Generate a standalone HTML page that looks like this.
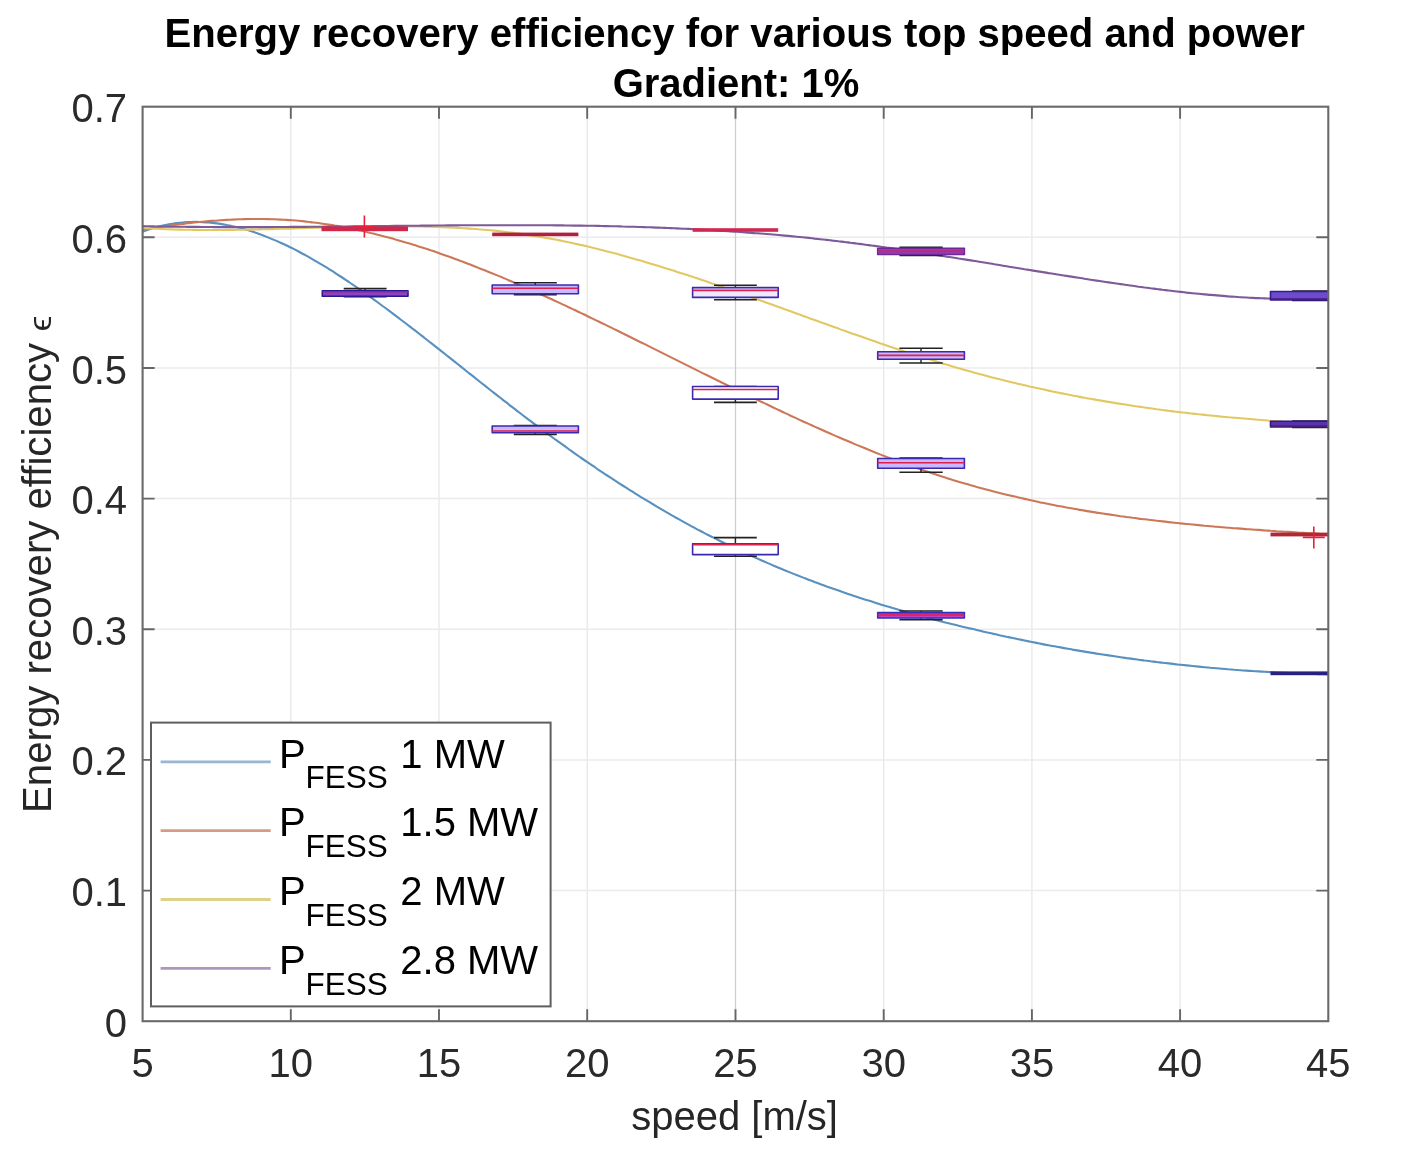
<!DOCTYPE html>
<html><head><meta charset="utf-8"><style>html,body{margin:0;padding:0;background:#fff;}svg{display:block;filter:blur(0.4px);}text{font-family:"Liberation Sans",sans-serif;}</style></head><body>
<svg width="1424" height="1161" viewBox="0 0 1424 1161">
<rect width="1424" height="1161" fill="#fff"/>
<path d="M290.8,106.7V1021.2M439.0,106.7V1021.2M587.2,106.7V1021.2M735.5,106.7V1021.2M883.7,106.7V1021.2M1031.9,106.7V1021.2M1180.1,106.7V1021.2M142.6,890.6H1328.3M142.6,759.9H1328.3M142.6,629.3H1328.3M142.6,498.6H1328.3M142.6,368.0H1328.3M142.6,237.3H1328.3" stroke="#ebebeb" stroke-width="1.5" fill="none"/>
<path d="M735.5,106.7V1021.2" stroke="#cdcdcd" stroke-width="1.1" fill="none"/>
<defs><clipPath id="ax"><rect x="142.6" y="106.7" width="1185.7" height="914.5"/></clipPath></defs>
<g clip-path="url(#ax)" fill="none" stroke-linejoin="round">
<path d="M142.6,231.7 C143.6,231.3 146.6,230.2 148.6,229.5 C150.6,228.8 152.6,228.2 154.6,227.7 C156.6,227.1 158.6,226.5 160.6,226.1 C162.6,225.6 164.6,225.1 166.6,224.7 C168.6,224.3 170.6,224.0 172.6,223.7 C174.6,223.4 176.6,223.1 178.6,222.9 C180.6,222.6 182.6,222.5 184.6,222.3 C186.6,222.2 188.6,222.1 190.6,222.0 C192.6,221.9 194.6,221.9 196.6,221.9 C198.6,222.0 200.6,222.0 202.6,222.1 C204.6,222.2 206.6,222.3 208.6,222.5 C210.6,222.7 212.6,222.9 214.6,223.1 C216.6,223.3 218.6,223.6 220.6,223.9 C222.6,224.2 224.6,224.6 226.6,225.0 C228.6,225.3 230.6,225.8 232.6,226.2 C234.6,226.6 236.6,227.1 238.6,227.6 C240.6,228.1 242.6,228.7 244.6,229.3 C246.6,229.8 248.6,230.4 250.6,231.1 C252.6,231.7 254.6,232.4 256.6,233.1 C258.6,233.8 260.6,234.5 262.6,235.2 C264.6,236.0 266.6,236.8 268.6,237.6 C270.6,238.4 272.6,239.2 274.6,240.1 C276.6,240.9 278.6,241.8 280.6,242.7 C282.6,243.6 284.6,244.5 286.6,245.5 C288.6,246.5 290.6,247.4 292.6,248.4 C294.6,249.5 296.6,250.5 298.6,251.5 C300.6,252.6 302.6,253.7 304.6,254.7 C306.6,255.8 308.6,257.0 310.6,258.1 C312.6,259.2 314.6,260.4 316.6,261.6 C318.6,262.7 320.6,263.9 322.6,265.1 C324.6,266.3 326.6,267.6 328.6,268.8 C330.6,270.1 332.6,271.3 334.6,272.6 C336.6,273.9 338.6,275.2 340.6,276.5 C342.6,277.8 344.6,279.1 346.6,280.5 C348.6,281.8 350.6,283.2 352.6,284.5 C354.6,285.9 356.6,287.3 358.6,288.7 C360.6,290.1 362.6,291.5 364.6,292.9 C366.6,294.3 368.6,295.8 370.6,297.2 C372.6,298.6 374.6,300.1 376.6,301.5 C378.6,303.0 380.6,304.5 382.6,306.0 C384.6,307.4 386.6,308.9 388.6,310.4 C390.6,311.9 392.6,313.4 394.6,314.9 C396.6,316.4 398.6,317.9 400.6,319.5 C402.6,321.0 404.6,322.5 406.6,324.0 C408.6,325.6 410.6,327.1 412.6,328.7 C414.6,330.2 416.6,331.7 418.6,333.3 C420.6,334.9 422.6,336.4 424.6,338.0 C426.6,339.5 428.6,341.1 430.6,342.7 C432.6,344.2 434.6,345.8 436.6,347.4 C438.6,349.0 440.6,350.6 442.6,352.1 C444.6,353.7 446.6,355.3 448.6,356.9 C450.6,358.5 452.6,360.1 454.6,361.6 C456.6,363.2 458.6,364.8 460.6,366.4 C462.6,368.0 464.6,369.6 466.6,371.2 C468.6,372.8 470.6,374.3 472.6,375.9 C474.6,377.5 476.6,379.1 478.6,380.7 C480.6,382.3 482.6,383.9 484.6,385.4 C486.6,387.0 488.6,388.6 490.6,390.2 C492.6,391.8 494.6,393.3 496.6,394.9 C498.6,396.5 500.6,398.0 502.6,399.6 C504.6,401.2 506.6,402.7 508.6,404.3 C510.6,405.8 512.6,407.4 514.6,408.9 C516.6,410.5 518.6,412.0 520.6,413.5 C522.6,415.1 524.6,416.6 526.6,418.1 C528.6,419.6 530.6,421.2 532.6,422.7 C534.6,424.2 536.6,425.7 538.6,427.2 C540.6,428.7 542.6,430.1 544.6,431.6 C546.6,433.1 548.6,434.6 550.6,436.0 C552.6,437.5 554.6,439.0 556.6,440.4 C558.6,441.9 560.6,443.3 562.6,444.7 C564.6,446.2 566.6,447.6 568.6,449.0 C570.6,450.4 572.6,451.9 574.6,453.3 C576.6,454.7 578.6,456.1 580.6,457.5 C582.6,458.8 584.6,460.2 586.6,461.6 C588.6,463.0 590.6,464.3 592.6,465.7 C594.6,467.1 596.6,468.4 598.6,469.8 C600.6,471.1 602.6,472.4 604.6,473.8 C606.6,475.1 608.6,476.4 610.6,477.7 C612.6,479.0 614.6,480.3 616.6,481.6 C618.6,482.9 620.6,484.2 622.6,485.5 C624.6,486.8 626.6,488.0 628.6,489.3 C630.6,490.6 632.6,491.8 634.6,493.1 C636.6,494.3 638.6,495.5 640.6,496.8 C642.6,498.0 644.6,499.2 646.6,500.4 C648.6,501.6 650.6,502.8 652.6,504.0 C654.6,505.2 656.6,506.4 658.6,507.6 C660.6,508.8 662.6,509.9 664.6,511.1 C666.6,512.3 668.6,513.4 670.6,514.6 C672.6,515.7 674.6,516.8 676.6,518.0 C678.6,519.1 680.6,520.2 682.6,521.3 C684.6,522.4 686.6,523.5 688.6,524.6 C690.6,525.7 692.6,526.8 694.6,527.8 C696.6,528.9 698.6,530.0 700.6,531.0 C702.6,532.1 704.6,533.1 706.6,534.2 C708.6,535.2 710.6,536.2 712.6,537.2 C714.6,538.3 716.6,539.3 718.6,540.3 C720.6,541.3 722.6,542.3 724.6,543.2 C726.6,544.2 728.6,545.2 730.6,546.2 C732.6,547.1 734.6,548.1 736.6,549.0 C738.6,550.0 740.6,550.9 742.6,551.8 C744.6,552.8 746.6,553.7 748.6,554.6 C750.6,555.5 752.6,556.4 754.6,557.3 C756.6,558.2 758.6,559.1 760.6,560.0 C762.6,560.9 764.6,561.8 766.6,562.6 C768.6,563.5 770.6,564.3 772.6,565.2 C774.6,566.0 776.6,566.9 778.6,567.7 C780.6,568.6 782.6,569.4 784.6,570.2 C786.6,571.0 788.6,571.8 790.6,572.6 C792.6,573.5 794.6,574.3 796.6,575.0 C798.6,575.8 800.6,576.6 802.6,577.4 C804.6,578.2 806.6,578.9 808.6,579.7 C810.6,580.5 812.6,581.2 814.6,582.0 C816.6,582.7 818.6,583.5 820.6,584.2 C822.6,584.9 824.6,585.7 826.6,586.4 C828.6,587.1 830.6,587.8 832.6,588.5 C834.6,589.2 836.6,589.9 838.6,590.6 C840.6,591.3 842.6,592.0 844.6,592.7 C846.6,593.4 848.6,594.1 850.6,594.7 C852.6,595.4 854.6,596.1 856.6,596.7 C858.6,597.4 860.6,598.1 862.6,598.7 C864.6,599.3 866.6,600.0 868.6,600.6 C870.6,601.3 872.6,601.9 874.6,602.5 C876.6,603.1 878.6,603.8 880.6,604.4 C882.6,605.0 884.6,605.6 886.6,606.2 C888.6,606.8 890.6,607.4 892.6,608.0 C894.6,608.6 896.6,609.2 898.6,609.7 C900.6,610.3 902.6,610.9 904.6,611.5 C906.6,612.0 908.6,612.6 910.6,613.2 C912.6,613.7 914.6,614.3 916.6,614.8 C918.6,615.4 920.6,615.9 922.6,616.5 C924.6,617.0 926.6,617.6 928.6,618.1 C930.6,618.6 932.6,619.1 934.6,619.7 C936.6,620.2 938.6,620.7 940.6,621.2 C942.6,621.7 944.6,622.2 946.6,622.8 C948.6,623.3 950.6,623.8 952.6,624.3 C954.6,624.8 956.6,625.3 958.6,625.7 C960.6,626.2 962.6,626.7 964.6,627.2 C966.6,627.7 968.6,628.2 970.6,628.6 C972.6,629.1 974.6,629.6 976.6,630.0 C978.6,630.5 980.6,631.0 982.6,631.4 C984.6,631.9 986.6,632.4 988.6,632.8 C990.6,633.3 992.6,633.7 994.6,634.1 C996.6,634.6 998.6,635.0 1000.6,635.5 C1002.6,635.9 1004.6,636.3 1006.6,636.8 C1008.6,637.2 1010.6,637.6 1012.6,638.0 C1014.6,638.5 1016.6,638.9 1018.6,639.3 C1020.6,639.7 1022.6,640.1 1024.6,640.5 C1026.6,640.9 1028.6,641.3 1030.6,641.7 C1032.6,642.1 1034.6,642.5 1036.6,642.9 C1038.6,643.3 1040.6,643.7 1042.6,644.1 C1044.6,644.5 1046.6,644.9 1048.6,645.2 C1050.6,645.6 1052.6,646.0 1054.6,646.3 C1056.6,646.7 1058.6,647.1 1060.6,647.4 C1062.6,647.8 1064.6,648.2 1066.6,648.5 C1068.6,648.9 1070.6,649.2 1072.6,649.6 C1074.6,649.9 1076.6,650.3 1078.6,650.6 C1080.6,650.9 1082.6,651.3 1084.6,651.6 C1086.6,651.9 1088.6,652.3 1090.6,652.6 C1092.6,652.9 1094.6,653.2 1096.6,653.6 C1098.6,653.9 1100.6,654.2 1102.6,654.5 C1104.6,654.8 1106.6,655.1 1108.6,655.4 C1110.6,655.7 1112.6,656.0 1114.6,656.3 C1116.6,656.6 1118.6,656.9 1120.6,657.2 C1122.6,657.5 1124.6,657.8 1126.6,658.1 C1128.6,658.3 1130.6,658.6 1132.6,658.9 C1134.6,659.2 1136.6,659.4 1138.6,659.7 C1140.6,660.0 1142.6,660.2 1144.6,660.5 C1146.6,660.7 1148.6,661.0 1150.6,661.3 C1152.6,661.5 1154.6,661.8 1156.6,662.0 C1158.6,662.2 1160.6,662.5 1162.6,662.7 C1164.6,663.0 1166.6,663.2 1168.6,663.4 C1170.6,663.7 1172.6,663.9 1174.6,664.1 C1176.6,664.3 1178.6,664.6 1180.6,664.8 C1182.6,665.0 1184.6,665.2 1186.6,665.4 C1188.6,665.6 1190.6,665.8 1192.6,666.0 C1194.6,666.2 1196.6,666.4 1198.6,666.6 C1200.6,666.8 1202.6,667.0 1204.6,667.2 C1206.6,667.4 1208.6,667.6 1210.6,667.8 C1212.6,667.9 1214.6,668.1 1216.6,668.3 C1218.6,668.5 1220.6,668.6 1222.6,668.8 C1224.6,669.0 1226.6,669.1 1228.6,669.3 C1230.6,669.4 1232.6,669.6 1234.6,669.8 C1236.6,669.9 1238.6,670.1 1240.6,670.2 C1242.6,670.4 1244.6,670.5 1246.6,670.6 C1248.6,670.8 1250.6,670.9 1252.6,671.0 C1254.6,671.2 1256.6,671.3 1258.6,671.4 C1260.6,671.5 1262.6,671.7 1264.6,671.8 C1266.6,671.9 1268.6,672.0 1270.6,672.1 C1272.6,672.2 1274.6,672.4 1276.6,672.5 C1278.6,672.6 1280.6,672.7 1282.6,672.8 C1284.6,672.9 1286.6,672.9 1288.6,673.0 C1290.6,673.1 1292.6,673.2 1294.6,673.3 C1296.6,673.4 1298.6,673.5 1300.6,673.5 C1302.6,673.6 1304.6,673.7 1306.6,673.8 C1308.6,673.8 1310.6,673.9 1312.6,674.0 C1314.6,674.0 1316.6,674.1 1318.6,674.1 C1320.6,674.2 1323.0,674.3 1324.6,674.3 C1326.2,674.3 1327.7,674.4 1328.3,674.4" stroke="#5890c0" stroke-width="2.1"/>
<path d="M142.6,229.8 C143.6,229.6 146.6,229.1 148.6,228.8 C150.6,228.4 152.6,228.1 154.6,227.8 C156.6,227.5 158.6,227.2 160.6,226.9 C162.6,226.6 164.6,226.3 166.6,226.0 C168.6,225.7 170.6,225.4 172.6,225.2 C174.6,224.9 176.6,224.6 178.6,224.4 C180.6,224.1 182.6,223.9 184.6,223.6 C186.6,223.4 188.6,223.1 190.6,222.9 C192.6,222.7 194.6,222.5 196.6,222.3 C198.6,222.1 200.6,221.9 202.6,221.7 C204.6,221.5 206.6,221.3 208.6,221.1 C210.6,221.0 212.6,220.8 214.6,220.7 C216.6,220.5 218.6,220.4 220.6,220.2 C222.6,220.1 224.6,220.0 226.6,219.9 C228.6,219.8 230.6,219.7 232.6,219.6 C234.6,219.5 236.6,219.4 238.6,219.3 C240.6,219.3 242.6,219.2 244.6,219.1 C246.6,219.1 248.6,219.1 250.6,219.0 C252.6,219.0 254.6,219.0 256.6,219.0 C258.6,219.0 260.6,219.0 262.6,219.0 C264.6,219.1 266.6,219.1 268.6,219.1 C270.6,219.2 272.6,219.3 274.6,219.3 C276.6,219.4 278.6,219.5 280.6,219.6 C282.6,219.7 284.6,219.8 286.6,219.9 C288.6,220.1 290.6,220.2 292.6,220.3 C294.6,220.5 296.6,220.7 298.6,220.8 C300.6,221.0 302.6,221.2 304.6,221.4 C306.6,221.6 308.6,221.9 310.6,222.1 C312.6,222.3 314.6,222.6 316.6,222.8 C318.6,223.1 320.6,223.4 322.6,223.7 C324.6,224.0 326.6,224.3 328.6,224.6 C330.6,224.9 332.6,225.2 334.6,225.6 C336.6,225.9 338.6,226.2 340.6,226.6 C342.6,227.0 344.6,227.4 346.6,227.7 C348.6,228.1 350.6,228.5 352.6,228.9 C354.6,229.4 356.6,229.8 358.6,230.2 C360.6,230.6 362.6,231.1 364.6,231.5 C366.6,232.0 368.6,232.5 370.6,233.0 C372.6,233.4 374.6,233.9 376.6,234.4 C378.6,234.9 380.6,235.4 382.6,235.9 C384.6,236.5 386.6,237.0 388.6,237.5 C390.6,238.1 392.6,238.6 394.6,239.2 C396.6,239.7 398.6,240.3 400.6,240.9 C402.6,241.5 404.6,242.1 406.6,242.7 C408.6,243.3 410.6,243.9 412.6,244.5 C414.6,245.1 416.6,245.7 418.6,246.4 C420.6,247.0 422.6,247.6 424.6,248.3 C426.6,248.9 428.6,249.6 430.6,250.3 C432.6,250.9 434.6,251.6 436.6,252.3 C438.6,253.0 440.6,253.7 442.6,254.4 C444.6,255.1 446.6,255.8 448.6,256.5 C450.6,257.2 452.6,258.0 454.6,258.7 C456.6,259.4 458.6,260.2 460.6,260.9 C462.6,261.7 464.6,262.4 466.6,263.2 C468.6,264.0 470.6,264.7 472.6,265.5 C474.6,266.3 476.6,267.1 478.6,267.9 C480.6,268.6 482.6,269.4 484.6,270.2 C486.6,271.0 488.6,271.9 490.6,272.7 C492.6,273.5 494.6,274.3 496.6,275.1 C498.6,276.0 500.6,276.8 502.6,277.6 C504.6,278.5 506.6,279.3 508.6,280.2 C510.6,281.0 512.6,281.9 514.6,282.8 C516.6,283.6 518.6,284.5 520.6,285.4 C522.6,286.2 524.6,287.1 526.6,288.0 C528.6,288.9 530.6,289.8 532.6,290.7 C534.6,291.6 536.6,292.5 538.6,293.4 C540.6,294.3 542.6,295.2 544.6,296.1 C546.6,297.0 548.6,297.9 550.6,298.8 C552.6,299.7 554.6,300.7 556.6,301.6 C558.6,302.5 560.6,303.4 562.6,304.4 C564.6,305.3 566.6,306.2 568.6,307.2 C570.6,308.1 572.6,309.1 574.6,310.0 C576.6,311.0 578.6,311.9 580.6,312.9 C582.6,313.8 584.6,314.8 586.6,315.7 C588.6,316.7 590.6,317.7 592.6,318.6 C594.6,319.6 596.6,320.6 598.6,321.5 C600.6,322.5 602.6,323.5 604.6,324.4 C606.6,325.4 608.6,326.4 610.6,327.4 C612.6,328.4 614.6,329.3 616.6,330.3 C618.6,331.3 620.6,332.3 622.6,333.3 C624.6,334.2 626.6,335.2 628.6,336.2 C630.6,337.2 632.6,338.2 634.6,339.2 C636.6,340.2 638.6,341.2 640.6,342.2 C642.6,343.2 644.6,344.1 646.6,345.1 C648.6,346.1 650.6,347.1 652.6,348.1 C654.6,349.1 656.6,350.1 658.6,351.1 C660.6,352.1 662.6,353.1 664.6,354.1 C666.6,355.1 668.6,356.1 670.6,357.1 C672.6,358.1 674.6,359.1 676.6,360.1 C678.6,361.1 680.6,362.1 682.6,363.1 C684.6,364.1 686.6,365.1 688.6,366.1 C690.6,367.1 692.6,368.1 694.6,369.1 C696.6,370.1 698.6,371.1 700.6,372.1 C702.6,373.0 704.6,374.0 706.6,375.0 C708.6,376.0 710.6,377.0 712.6,378.0 C714.6,379.0 716.6,380.0 718.6,381.0 C720.6,382.0 722.6,382.9 724.6,383.9 C726.6,384.9 728.6,385.9 730.6,386.9 C732.6,387.9 734.6,388.8 736.6,389.8 C738.6,390.8 740.6,391.8 742.6,392.8 C744.6,393.7 746.6,394.7 748.6,395.7 C750.6,396.6 752.6,397.6 754.6,398.6 C756.6,399.5 758.6,400.5 760.6,401.5 C762.6,402.4 764.6,403.4 766.6,404.3 C768.6,405.3 770.6,406.2 772.6,407.2 C774.6,408.1 776.6,409.1 778.6,410.0 C780.6,411.0 782.6,411.9 784.6,412.9 C786.6,413.8 788.6,414.7 790.6,415.7 C792.6,416.6 794.6,417.5 796.6,418.4 C798.6,419.4 800.6,420.3 802.6,421.2 C804.6,422.1 806.6,423.0 808.6,423.9 C810.6,424.8 812.6,425.7 814.6,426.6 C816.6,427.5 818.6,428.4 820.6,429.3 C822.6,430.2 824.6,431.1 826.6,432.0 C828.6,432.9 830.6,433.7 832.6,434.6 C834.6,435.5 836.6,436.4 838.6,437.2 C840.6,438.1 842.6,438.9 844.6,439.8 C846.6,440.7 848.6,441.5 850.6,442.3 C852.6,443.2 854.6,444.0 856.6,444.9 C858.6,445.7 860.6,446.5 862.6,447.3 C864.6,448.2 866.6,449.0 868.6,449.8 C870.6,450.6 872.6,451.4 874.6,452.2 C876.6,453.0 878.6,453.8 880.6,454.6 C882.6,455.4 884.6,456.1 886.6,456.9 C888.6,457.7 890.6,458.4 892.6,459.2 C894.6,460.0 896.6,460.7 898.6,461.5 C900.6,462.2 902.6,463.0 904.6,463.7 C906.6,464.4 908.6,465.1 910.6,465.9 C912.6,466.6 914.6,467.3 916.6,468.0 C918.6,468.7 920.6,469.4 922.6,470.1 C924.6,470.8 926.6,471.5 928.6,472.1 C930.6,472.8 932.6,473.5 934.6,474.1 C936.6,474.8 938.6,475.5 940.6,476.1 C942.6,476.7 944.6,477.4 946.6,478.0 C948.6,478.6 950.6,479.3 952.6,479.9 C954.6,480.5 956.6,481.1 958.6,481.7 C960.6,482.3 962.6,482.9 964.6,483.5 C966.6,484.1 968.6,484.6 970.6,485.2 C972.6,485.8 974.6,486.3 976.6,486.9 C978.6,487.4 980.6,488.0 982.6,488.5 C984.6,489.1 986.6,489.6 988.6,490.1 C990.6,490.7 992.6,491.2 994.6,491.7 C996.6,492.2 998.6,492.7 1000.6,493.2 C1002.6,493.7 1004.6,494.2 1006.6,494.7 C1008.6,495.2 1010.6,495.7 1012.6,496.1 C1014.6,496.6 1016.6,497.1 1018.6,497.5 C1020.6,498.0 1022.6,498.5 1024.6,498.9 C1026.6,499.3 1028.6,499.8 1030.6,500.2 C1032.6,500.7 1034.6,501.1 1036.6,501.5 C1038.6,501.9 1040.6,502.4 1042.6,502.8 C1044.6,503.2 1046.6,503.6 1048.6,504.0 C1050.6,504.4 1052.6,504.8 1054.6,505.2 C1056.6,505.6 1058.6,506.0 1060.6,506.3 C1062.6,506.7 1064.6,507.1 1066.6,507.5 C1068.6,507.8 1070.6,508.2 1072.6,508.5 C1074.6,508.9 1076.6,509.2 1078.6,509.6 C1080.6,509.9 1082.6,510.3 1084.6,510.6 C1086.6,511.0 1088.6,511.3 1090.6,511.6 C1092.6,511.9 1094.6,512.3 1096.6,512.6 C1098.6,512.9 1100.6,513.2 1102.6,513.5 C1104.6,513.8 1106.6,514.1 1108.6,514.4 C1110.6,514.7 1112.6,515.0 1114.6,515.3 C1116.6,515.6 1118.6,515.9 1120.6,516.2 C1122.6,516.4 1124.6,516.7 1126.6,517.0 C1128.6,517.2 1130.6,517.5 1132.6,517.8 C1134.6,518.0 1136.6,518.3 1138.6,518.6 C1140.6,518.8 1142.6,519.1 1144.6,519.3 C1146.6,519.6 1148.6,519.8 1150.6,520.0 C1152.6,520.3 1154.6,520.5 1156.6,520.7 C1158.6,521.0 1160.6,521.2 1162.6,521.4 C1164.6,521.7 1166.6,521.9 1168.6,522.1 C1170.6,522.3 1172.6,522.5 1174.6,522.7 C1176.6,522.9 1178.6,523.2 1180.6,523.4 C1182.6,523.6 1184.6,523.8 1186.6,524.0 C1188.6,524.2 1190.6,524.4 1192.6,524.5 C1194.6,524.7 1196.6,524.9 1198.6,525.1 C1200.6,525.3 1202.6,525.5 1204.6,525.7 C1206.6,525.8 1208.6,526.0 1210.6,526.2 C1212.6,526.4 1214.6,526.5 1216.6,526.7 C1218.6,526.9 1220.6,527.0 1222.6,527.2 C1224.6,527.4 1226.6,527.5 1228.6,527.7 C1230.6,527.9 1232.6,528.0 1234.6,528.2 C1236.6,528.3 1238.6,528.5 1240.6,528.6 C1242.6,528.8 1244.6,528.9 1246.6,529.1 C1248.6,529.2 1250.6,529.4 1252.6,529.5 C1254.6,529.7 1256.6,529.8 1258.6,529.9 C1260.6,530.1 1262.6,530.2 1264.6,530.4 C1266.6,530.5 1268.6,530.6 1270.6,530.8 C1272.6,530.9 1274.6,531.0 1276.6,531.2 C1278.6,531.3 1280.6,531.4 1282.6,531.6 C1284.6,531.7 1286.6,531.8 1288.6,531.9 C1290.6,532.1 1292.6,532.2 1294.6,532.3 C1296.6,532.4 1298.6,532.6 1300.6,532.7 C1302.6,532.8 1304.6,532.9 1306.6,533.0 C1308.6,533.2 1310.6,533.3 1312.6,533.4 C1314.6,533.5 1316.6,533.6 1318.6,533.7 C1320.6,533.9 1323.0,534.0 1324.6,534.1 C1326.2,534.2 1327.7,534.3 1328.3,534.3" stroke="#cc7858" stroke-width="2.1"/>
<path d="M142.6,228.0 C143.6,228.0 146.6,228.2 148.6,228.3 C150.6,228.4 152.6,228.5 154.6,228.6 C156.6,228.7 158.6,228.8 160.6,228.9 C162.6,229.0 164.6,229.1 166.6,229.2 C168.6,229.2 170.6,229.3 172.6,229.4 C174.6,229.4 176.6,229.5 178.6,229.6 C180.6,229.6 182.6,229.7 184.6,229.7 C186.6,229.7 188.6,229.8 190.6,229.8 C192.6,229.8 194.6,229.9 196.6,229.9 C198.6,229.9 200.6,229.9 202.6,230.0 C204.6,230.0 206.6,230.0 208.6,230.0 C210.6,230.0 212.6,230.0 214.6,230.0 C216.6,230.0 218.6,230.0 220.6,230.0 C222.6,230.0 224.6,229.9 226.6,229.9 C228.6,229.9 230.6,229.9 232.6,229.9 C234.6,229.8 236.6,229.8 238.6,229.8 C240.6,229.8 242.6,229.7 244.6,229.7 C246.6,229.7 248.6,229.6 250.6,229.6 C252.6,229.5 254.6,229.5 256.6,229.5 C258.6,229.4 260.6,229.4 262.6,229.3 C264.6,229.3 266.6,229.2 268.6,229.2 C270.6,229.1 272.6,229.1 274.6,229.0 C276.6,229.0 278.6,228.9 280.6,228.8 C282.6,228.8 284.6,228.7 286.6,228.7 C288.6,228.6 290.6,228.6 292.6,228.5 C294.6,228.4 296.6,228.4 298.6,228.3 C300.6,228.3 302.6,228.2 304.6,228.1 C306.6,228.1 308.6,228.0 310.6,228.0 C312.6,227.9 314.6,227.8 316.6,227.8 C318.6,227.7 320.6,227.7 322.6,227.6 C324.6,227.5 326.6,227.5 328.6,227.4 C330.6,227.4 332.6,227.3 334.6,227.3 C336.6,227.2 338.6,227.2 340.6,227.1 C342.6,227.1 344.6,227.0 346.6,227.0 C348.6,226.9 350.6,226.9 352.6,226.8 C354.6,226.8 356.6,226.7 358.6,226.7 C360.6,226.7 362.6,226.6 364.6,226.6 C366.6,226.6 368.6,226.5 370.6,226.5 C372.6,226.5 374.6,226.4 376.6,226.4 C378.6,226.4 380.6,226.4 382.6,226.4 C384.6,226.4 386.6,226.3 388.6,226.3 C390.6,226.3 392.6,226.3 394.6,226.3 C396.6,226.3 398.6,226.3 400.6,226.3 C402.6,226.3 404.6,226.3 406.6,226.4 C408.6,226.4 410.6,226.4 412.6,226.4 C414.6,226.4 416.6,226.5 418.6,226.5 C420.6,226.5 422.6,226.6 424.6,226.6 C426.6,226.7 428.6,226.7 430.6,226.8 C432.6,226.8 434.6,226.9 436.6,227.0 C438.6,227.0 440.6,227.1 442.6,227.2 C444.6,227.2 446.6,227.3 448.6,227.4 C450.6,227.5 452.6,227.6 454.6,227.7 C456.6,227.8 458.6,227.9 460.6,228.0 C462.6,228.2 464.6,228.3 466.6,228.4 C468.6,228.5 470.6,228.7 472.6,228.8 C474.6,229.0 476.6,229.1 478.6,229.3 C480.6,229.4 482.6,229.6 484.6,229.8 C486.6,229.9 488.6,230.1 490.6,230.3 C492.6,230.5 494.6,230.7 496.6,230.9 C498.6,231.1 500.6,231.3 502.6,231.6 C504.6,231.8 506.6,232.0 508.6,232.3 C510.6,232.5 512.6,232.8 514.6,233.0 C516.6,233.3 518.6,233.5 520.6,233.8 C522.6,234.1 524.6,234.4 526.6,234.7 C528.6,235.0 530.6,235.3 532.6,235.6 C534.6,235.9 536.6,236.2 538.6,236.6 C540.6,236.9 542.6,237.2 544.6,237.6 C546.6,238.0 548.6,238.3 550.6,238.7 C552.6,239.1 554.6,239.4 556.6,239.8 C558.6,240.2 560.6,240.6 562.6,241.0 C564.6,241.4 566.6,241.8 568.6,242.3 C570.6,242.7 572.6,243.1 574.6,243.6 C576.6,244.0 578.6,244.4 580.6,244.9 C582.6,245.3 584.6,245.8 586.6,246.3 C588.6,246.7 590.6,247.2 592.6,247.7 C594.6,248.2 596.6,248.7 598.6,249.2 C600.6,249.7 602.6,250.2 604.6,250.7 C606.6,251.2 608.6,251.7 610.6,252.3 C612.6,252.8 614.6,253.3 616.6,253.8 C618.6,254.4 620.6,254.9 622.6,255.5 C624.6,256.0 626.6,256.6 628.6,257.2 C630.6,257.7 632.6,258.3 634.6,258.9 C636.6,259.4 638.6,260.0 640.6,260.6 C642.6,261.2 644.6,261.8 646.6,262.4 C648.6,263.0 650.6,263.6 652.6,264.2 C654.6,264.8 656.6,265.4 658.6,266.0 C660.6,266.6 662.6,267.3 664.6,267.9 C666.6,268.5 668.6,269.1 670.6,269.8 C672.6,270.4 674.6,271.0 676.6,271.7 C678.6,272.3 680.6,273.0 682.6,273.6 C684.6,274.3 686.6,274.9 688.6,275.6 C690.6,276.3 692.6,276.9 694.6,277.6 C696.6,278.2 698.6,278.9 700.6,279.6 C702.6,280.3 704.6,280.9 706.6,281.6 C708.6,282.3 710.6,283.0 712.6,283.7 C714.6,284.3 716.6,285.0 718.6,285.7 C720.6,286.4 722.6,287.1 724.6,287.8 C726.6,288.5 728.6,289.2 730.6,289.9 C732.6,290.6 734.6,291.3 736.6,292.0 C738.6,292.7 740.6,293.4 742.6,294.1 C744.6,294.8 746.6,295.5 748.6,296.2 C750.6,297.0 752.6,297.7 754.6,298.4 C756.6,299.1 758.6,299.8 760.6,300.5 C762.6,301.2 764.6,302.0 766.6,302.7 C768.6,303.4 770.6,304.1 772.6,304.8 C774.6,305.6 776.6,306.3 778.6,307.0 C780.6,307.7 782.6,308.4 784.6,309.2 C786.6,309.9 788.6,310.6 790.6,311.3 C792.6,312.1 794.6,312.8 796.6,313.5 C798.6,314.2 800.6,315.0 802.6,315.7 C804.6,316.4 806.6,317.1 808.6,317.9 C810.6,318.6 812.6,319.3 814.6,320.0 C816.6,320.7 818.6,321.5 820.6,322.2 C822.6,322.9 824.6,323.6 826.6,324.3 C828.6,325.1 830.6,325.8 832.6,326.5 C834.6,327.2 836.6,327.9 838.6,328.6 C840.6,329.4 842.6,330.1 844.6,330.8 C846.6,331.5 848.6,332.2 850.6,332.9 C852.6,333.6 854.6,334.3 856.6,335.0 C858.6,335.7 860.6,336.4 862.6,337.1 C864.6,337.8 866.6,338.5 868.6,339.2 C870.6,339.9 872.6,340.6 874.6,341.3 C876.6,342.0 878.6,342.7 880.6,343.4 C882.6,344.0 884.6,344.7 886.6,345.4 C888.6,346.1 890.6,346.8 892.6,347.4 C894.6,348.1 896.6,348.8 898.6,349.4 C900.6,350.1 902.6,350.8 904.6,351.4 C906.6,352.1 908.6,352.7 910.6,353.4 C912.6,354.0 914.6,354.7 916.6,355.3 C918.6,356.0 920.6,356.6 922.6,357.2 C924.6,357.9 926.6,358.5 928.6,359.1 C930.6,359.8 932.6,360.4 934.6,361.0 C936.6,361.6 938.6,362.2 940.6,362.8 C942.6,363.4 944.6,364.1 946.6,364.6 C948.6,365.2 950.6,365.8 952.6,366.4 C954.6,367.0 956.6,367.6 958.6,368.2 C960.6,368.8 962.6,369.3 964.6,369.9 C966.6,370.5 968.6,371.0 970.6,371.6 C972.6,372.1 974.6,372.7 976.6,373.2 C978.6,373.8 980.6,374.3 982.6,374.8 C984.6,375.4 986.6,375.9 988.6,376.4 C990.6,377.0 992.6,377.5 994.6,378.0 C996.6,378.5 998.6,379.0 1000.6,379.5 C1002.6,380.0 1004.6,380.5 1006.6,381.0 C1008.6,381.5 1010.6,382.0 1012.6,382.5 C1014.6,382.9 1016.6,383.4 1018.6,383.9 C1020.6,384.4 1022.6,384.8 1024.6,385.3 C1026.6,385.8 1028.6,386.2 1030.6,386.7 C1032.6,387.1 1034.6,387.6 1036.6,388.0 C1038.6,388.5 1040.6,388.9 1042.6,389.3 C1044.6,389.8 1046.6,390.2 1048.6,390.6 C1050.6,391.0 1052.6,391.5 1054.6,391.9 C1056.6,392.3 1058.6,392.7 1060.6,393.1 C1062.6,393.5 1064.6,393.9 1066.6,394.3 C1068.6,394.7 1070.6,395.1 1072.6,395.5 C1074.6,395.9 1076.6,396.2 1078.6,396.6 C1080.6,397.0 1082.6,397.4 1084.6,397.7 C1086.6,398.1 1088.6,398.5 1090.6,398.8 C1092.6,399.2 1094.6,399.5 1096.6,399.9 C1098.6,400.2 1100.6,400.6 1102.6,400.9 C1104.6,401.3 1106.6,401.6 1108.6,401.9 C1110.6,402.3 1112.6,402.6 1114.6,402.9 C1116.6,403.3 1118.6,403.6 1120.6,403.9 C1122.6,404.2 1124.6,404.5 1126.6,404.8 C1128.6,405.1 1130.6,405.5 1132.6,405.8 C1134.6,406.1 1136.6,406.3 1138.6,406.6 C1140.6,406.9 1142.6,407.2 1144.6,407.5 C1146.6,407.8 1148.6,408.1 1150.6,408.3 C1152.6,408.6 1154.6,408.9 1156.6,409.2 C1158.6,409.4 1160.6,409.7 1162.6,410.0 C1164.6,410.2 1166.6,410.5 1168.6,410.7 C1170.6,411.0 1172.6,411.2 1174.6,411.5 C1176.6,411.7 1178.6,412.0 1180.6,412.2 C1182.6,412.4 1184.6,412.7 1186.6,412.9 C1188.6,413.1 1190.6,413.4 1192.6,413.6 C1194.6,413.8 1196.6,414.0 1198.6,414.3 C1200.6,414.5 1202.6,414.7 1204.6,414.9 C1206.6,415.1 1208.6,415.3 1210.6,415.5 C1212.6,415.7 1214.6,415.9 1216.6,416.1 C1218.6,416.3 1220.6,416.5 1222.6,416.7 C1224.6,416.9 1226.6,417.1 1228.6,417.3 C1230.6,417.4 1232.6,417.6 1234.6,417.8 C1236.6,418.0 1238.6,418.2 1240.6,418.3 C1242.6,418.5 1244.6,418.7 1246.6,418.8 C1248.6,419.0 1250.6,419.2 1252.6,419.3 C1254.6,419.5 1256.6,419.6 1258.6,419.8 C1260.6,419.9 1262.6,420.1 1264.6,420.2 C1266.6,420.4 1268.6,420.5 1270.6,420.7 C1272.6,420.8 1274.6,420.9 1276.6,421.1 C1278.6,421.2 1280.6,421.3 1282.6,421.5 C1284.6,421.6 1286.6,421.7 1288.6,421.8 C1290.6,422.0 1292.6,422.1 1294.6,422.2 C1296.6,422.3 1298.6,422.4 1300.6,422.5 C1302.6,422.7 1304.6,422.8 1306.6,422.9 C1308.6,423.0 1310.6,423.1 1312.6,423.2 C1314.6,423.3 1316.6,423.4 1318.6,423.5 C1320.6,423.6 1323.0,423.7 1324.6,423.8 C1326.2,423.8 1327.7,423.9 1328.3,423.9" stroke="#e2c862" stroke-width="2.1"/>
<path d="M142.6,226.1 C143.6,226.2 146.6,226.2 148.6,226.3 C150.6,226.3 152.6,226.3 154.6,226.4 C156.6,226.4 158.6,226.5 160.6,226.5 C162.6,226.5 164.6,226.6 166.6,226.6 C168.6,226.6 170.6,226.6 172.6,226.7 C174.6,226.7 176.6,226.7 178.6,226.8 C180.6,226.8 182.6,226.8 184.6,226.8 C186.6,226.8 188.6,226.9 190.6,226.9 C192.6,226.9 194.6,226.9 196.6,226.9 C198.6,227.0 200.6,227.0 202.6,227.0 C204.6,227.0 206.6,227.0 208.6,227.0 C210.6,227.0 212.6,227.1 214.6,227.1 C216.6,227.1 218.6,227.1 220.6,227.1 C222.6,227.1 224.6,227.1 226.6,227.1 C228.6,227.1 230.6,227.1 232.6,227.1 C234.6,227.1 236.6,227.1 238.6,227.1 C240.6,227.1 242.6,227.1 244.6,227.1 C246.6,227.1 248.6,227.1 250.6,227.1 C252.6,227.1 254.6,227.1 256.6,227.1 C258.6,227.1 260.6,227.1 262.6,227.1 C264.6,227.1 266.6,227.1 268.6,227.1 C270.6,227.1 272.6,227.1 274.6,227.0 C276.6,227.0 278.6,227.0 280.6,227.0 C282.6,227.0 284.6,227.0 286.6,227.0 C288.6,227.0 290.6,227.0 292.6,226.9 C294.6,226.9 296.6,226.9 298.6,226.9 C300.6,226.9 302.6,226.9 304.6,226.9 C306.6,226.8 308.6,226.8 310.6,226.8 C312.6,226.8 314.6,226.8 316.6,226.8 C318.6,226.7 320.6,226.7 322.6,226.7 C324.6,226.7 326.6,226.7 328.6,226.6 C330.6,226.6 332.6,226.6 334.6,226.6 C336.6,226.6 338.6,226.5 340.6,226.5 C342.6,226.5 344.6,226.5 346.6,226.5 C348.6,226.4 350.6,226.4 352.6,226.4 C354.6,226.4 356.6,226.4 358.6,226.3 C360.6,226.3 362.6,226.3 364.6,226.3 C366.6,226.2 368.6,226.2 370.6,226.2 C372.6,226.2 374.6,226.2 376.6,226.1 C378.6,226.1 380.6,226.1 382.6,226.1 C384.6,226.0 386.6,226.0 388.6,226.0 C390.6,226.0 392.6,226.0 394.6,225.9 C396.6,225.9 398.6,225.9 400.6,225.9 C402.6,225.8 404.6,225.8 406.6,225.8 C408.6,225.8 410.6,225.8 412.6,225.7 C414.6,225.7 416.6,225.7 418.6,225.7 C420.6,225.7 422.6,225.6 424.6,225.6 C426.6,225.6 428.6,225.6 430.6,225.6 C432.6,225.6 434.6,225.5 436.6,225.5 C438.6,225.5 440.6,225.5 442.6,225.5 C444.6,225.4 446.6,225.4 448.6,225.4 C450.6,225.4 452.6,225.4 454.6,225.4 C456.6,225.4 458.6,225.3 460.6,225.3 C462.6,225.3 464.6,225.3 466.6,225.3 C468.6,225.3 470.6,225.3 472.6,225.3 C474.6,225.2 476.6,225.2 478.6,225.2 C480.6,225.2 482.6,225.2 484.6,225.2 C486.6,225.2 488.6,225.2 490.6,225.2 C492.6,225.2 494.6,225.2 496.6,225.2 C498.6,225.2 500.6,225.2 502.6,225.2 C504.6,225.2 506.6,225.2 508.6,225.2 C510.6,225.2 512.6,225.2 514.6,225.2 C516.6,225.2 518.6,225.2 520.6,225.2 C522.6,225.2 524.6,225.2 526.6,225.2 C528.6,225.2 530.6,225.2 532.6,225.2 C534.6,225.2 536.6,225.2 538.6,225.2 C540.6,225.2 542.6,225.2 544.6,225.3 C546.6,225.3 548.6,225.3 550.6,225.3 C552.6,225.3 554.6,225.3 556.6,225.4 C558.6,225.4 560.6,225.4 562.6,225.4 C564.6,225.4 566.6,225.5 568.6,225.5 C570.6,225.5 572.6,225.5 574.6,225.6 C576.6,225.6 578.6,225.6 580.6,225.6 C582.6,225.7 584.6,225.7 586.6,225.7 C588.6,225.8 590.6,225.8 592.6,225.8 C594.6,225.9 596.6,225.9 598.6,225.9 C600.6,226.0 602.6,226.0 604.6,226.1 C606.6,226.1 608.6,226.2 610.6,226.2 C612.6,226.2 614.6,226.3 616.6,226.3 C618.6,226.4 620.6,226.4 622.6,226.5 C624.6,226.5 626.6,226.6 628.6,226.7 C630.6,226.7 632.6,226.8 634.6,226.8 C636.6,226.9 638.6,227.0 640.6,227.0 C642.6,227.1 644.6,227.1 646.6,227.2 C648.6,227.3 650.6,227.3 652.6,227.4 C654.6,227.5 656.6,227.6 658.6,227.6 C660.6,227.7 662.6,227.8 664.6,227.9 C666.6,228.0 668.6,228.0 670.6,228.1 C672.6,228.2 674.6,228.3 676.6,228.4 C678.6,228.5 680.6,228.6 682.6,228.7 C684.6,228.8 686.6,228.8 688.6,228.9 C690.6,229.0 692.6,229.1 694.6,229.2 C696.6,229.3 698.6,229.5 700.6,229.6 C702.6,229.7 704.6,229.8 706.6,229.9 C708.6,230.0 710.6,230.1 712.6,230.2 C714.6,230.3 716.6,230.5 718.6,230.6 C720.6,230.7 722.6,230.8 724.6,231.0 C726.6,231.1 728.6,231.2 730.6,231.4 C732.6,231.5 734.6,231.6 736.6,231.8 C738.6,231.9 740.6,232.0 742.6,232.2 C744.6,232.3 746.6,232.5 748.6,232.6 C750.6,232.8 752.6,232.9 754.6,233.1 C756.6,233.2 758.6,233.4 760.6,233.5 C762.6,233.7 764.6,233.9 766.6,234.0 C768.6,234.2 770.6,234.4 772.6,234.5 C774.6,234.7 776.6,234.9 778.6,235.0 C780.6,235.2 782.6,235.4 784.6,235.6 C786.6,235.8 788.6,236.0 790.6,236.1 C792.6,236.3 794.6,236.5 796.6,236.7 C798.6,236.9 800.6,237.1 802.6,237.3 C804.6,237.5 806.6,237.7 808.6,237.9 C810.6,238.1 812.6,238.3 814.6,238.6 C816.6,238.8 818.6,239.0 820.6,239.2 C822.6,239.4 824.6,239.7 826.6,239.9 C828.6,240.1 830.6,240.3 832.6,240.6 C834.6,240.8 836.6,241.0 838.6,241.3 C840.6,241.5 842.6,241.8 844.6,242.0 C846.6,242.3 848.6,242.5 850.6,242.8 C852.6,243.0 854.6,243.3 856.6,243.5 C858.6,243.8 860.6,244.0 862.6,244.3 C864.6,244.6 866.6,244.8 868.6,245.1 C870.6,245.4 872.6,245.6 874.6,245.9 C876.6,246.2 878.6,246.4 880.6,246.7 C882.6,247.0 884.6,247.3 886.6,247.6 C888.6,247.8 890.6,248.1 892.6,248.4 C894.6,248.7 896.6,249.0 898.6,249.3 C900.6,249.6 902.6,249.9 904.6,250.2 C906.6,250.4 908.6,250.7 910.6,251.0 C912.6,251.3 914.6,251.6 916.6,251.9 C918.6,252.2 920.6,252.5 922.6,252.8 C924.6,253.1 926.6,253.5 928.6,253.8 C930.6,254.1 932.6,254.4 934.6,254.7 C936.6,255.0 938.6,255.3 940.6,255.6 C942.6,255.9 944.6,256.2 946.6,256.6 C948.6,256.9 950.6,257.2 952.6,257.5 C954.6,257.8 956.6,258.1 958.6,258.5 C960.6,258.8 962.6,259.1 964.6,259.4 C966.6,259.7 968.6,260.1 970.6,260.4 C972.6,260.7 974.6,261.0 976.6,261.3 C978.6,261.7 980.6,262.0 982.6,262.3 C984.6,262.6 986.6,263.0 988.6,263.3 C990.6,263.6 992.6,263.9 994.6,264.3 C996.6,264.6 998.6,264.9 1000.6,265.2 C1002.6,265.6 1004.6,265.9 1006.6,266.2 C1008.6,266.6 1010.6,266.9 1012.6,267.2 C1014.6,267.5 1016.6,267.9 1018.6,268.2 C1020.6,268.5 1022.6,268.8 1024.6,269.2 C1026.6,269.5 1028.6,269.8 1030.6,270.1 C1032.6,270.5 1034.6,270.8 1036.6,271.1 C1038.6,271.4 1040.6,271.8 1042.6,272.1 C1044.6,272.4 1046.6,272.7 1048.6,273.1 C1050.6,273.4 1052.6,273.7 1054.6,274.0 C1056.6,274.3 1058.6,274.7 1060.6,275.0 C1062.6,275.3 1064.6,275.6 1066.6,275.9 C1068.6,276.2 1070.6,276.6 1072.6,276.9 C1074.6,277.2 1076.6,277.5 1078.6,277.8 C1080.6,278.1 1082.6,278.4 1084.6,278.8 C1086.6,279.1 1088.6,279.4 1090.6,279.7 C1092.6,280.0 1094.6,280.3 1096.6,280.6 C1098.6,280.9 1100.6,281.2 1102.6,281.5 C1104.6,281.8 1106.6,282.1 1108.6,282.4 C1110.6,282.7 1112.6,283.0 1114.6,283.3 C1116.6,283.6 1118.6,283.9 1120.6,284.1 C1122.6,284.4 1124.6,284.7 1126.6,285.0 C1128.6,285.3 1130.6,285.6 1132.6,285.8 C1134.6,286.1 1136.6,286.4 1138.6,286.7 C1140.6,286.9 1142.6,287.2 1144.6,287.5 C1146.6,287.7 1148.6,288.0 1150.6,288.3 C1152.6,288.5 1154.6,288.8 1156.6,289.0 C1158.6,289.3 1160.6,289.5 1162.6,289.8 C1164.6,290.0 1166.6,290.3 1168.6,290.5 C1170.6,290.8 1172.6,291.0 1174.6,291.2 C1176.6,291.5 1178.6,291.7 1180.6,291.9 C1182.6,292.1 1184.6,292.3 1186.6,292.6 C1188.6,292.8 1190.6,293.0 1192.6,293.2 C1194.6,293.4 1196.6,293.6 1198.6,293.8 C1200.6,294.0 1202.6,294.2 1204.6,294.4 C1206.6,294.6 1208.6,294.7 1210.6,294.9 C1212.6,295.1 1214.6,295.3 1216.6,295.4 C1218.6,295.6 1220.6,295.8 1222.6,295.9 C1224.6,296.1 1226.6,296.2 1228.6,296.4 C1230.6,296.5 1232.6,296.7 1234.6,296.8 C1236.6,296.9 1238.6,297.1 1240.6,297.2 C1242.6,297.3 1244.6,297.4 1246.6,297.5 C1248.6,297.7 1250.6,297.8 1252.6,297.9 C1254.6,298.0 1256.6,298.1 1258.6,298.1 C1260.6,298.2 1262.6,298.3 1264.6,298.4 C1266.6,298.5 1268.6,298.5 1270.6,298.6 C1272.6,298.6 1274.6,298.7 1276.6,298.7 C1278.6,298.8 1280.6,298.8 1282.6,298.9 C1284.6,298.9 1286.6,298.9 1288.6,298.9 C1290.6,299.0 1292.6,299.0 1294.6,299.0 C1296.6,299.0 1298.6,299.0 1300.6,299.0 C1302.6,298.9 1304.6,298.9 1306.6,298.9 C1308.6,298.9 1310.6,298.8 1312.6,298.8 C1314.6,298.7 1316.6,298.7 1318.6,298.6 C1320.6,298.6 1323.0,298.5 1324.6,298.4 C1326.2,298.4 1327.7,298.3 1328.3,298.3" stroke="#7e5a98" stroke-width="2.1"/>
<rect x="321.5" y="226.4" width="86.5" height="4.8" fill="#d0284a" stroke="none"/><path d="M353.4,226.6H375.4M364.4,215.6V237.6" stroke="#e8203a" stroke-width="1.6"/><path d="M365.1,288.6V290.8M365.1,296.2V296.6" stroke="#222" stroke-width="1.4"/><path d="M343.7,288.6H386.6M343.7,296.6H386.6" stroke="#222" stroke-width="1.6"/><rect x="322.3" y="290.8" width="85.7" height="5.4" fill="#8a44c4" stroke="#2a1890" stroke-width="1.6"/><path d="M322.3,291.8H408.0" stroke="#8a2890" stroke-width="1.6"/><rect x="492.2" y="232.6" width="86.2" height="3.6" fill="#b02040" stroke="none"/><path d="M535.3,282.8V285.0M535.3,293.8V294.8" stroke="#222" stroke-width="1.4"/><path d="M513.8,282.8H556.8M513.8,294.8H556.8" stroke="#222" stroke-width="1.6"/><rect x="492.2" y="285.0" width="86.2" height="8.8" fill="#c8b8ff" stroke="#3a2ab0" stroke-width="1.6"/><path d="M492.2,288.2H578.4" stroke="#e0204a" stroke-width="1.6"/><path d="M535.3,425.5V426.0M535.3,432.8V434.4" stroke="#222" stroke-width="1.4"/><path d="M513.8,425.5H556.8M513.8,434.4H556.8" stroke="#222" stroke-width="1.6"/><rect x="492.2" y="426.0" width="86.2" height="6.8" fill="#c8b8ff" stroke="#3a2ab0" stroke-width="1.6"/><path d="M492.2,431.0H578.4" stroke="#e0204a" stroke-width="1.6"/><rect x="692.6" y="228.2" width="85.6" height="3.6" fill="#d02850" stroke="none"/><path d="M735.4,285.3V287.6M735.4,297.4V299.7" stroke="#222" stroke-width="1.4"/><path d="M714.0,285.3H756.8M714.0,299.7H756.8" stroke="#222" stroke-width="1.6"/><rect x="692.6" y="287.6" width="85.6" height="9.8" fill="#f0e8ff" stroke="#3a2ab0" stroke-width="1.6"/><path d="M692.6,290.4H778.2" stroke="#e0204a" stroke-width="1.6"/><path d="M735.4,386.5V386.5M735.4,399.1V402.4" stroke="#222" stroke-width="1.4"/><path d="M714.0,386.5H756.8M714.0,402.4H756.8" stroke="#222" stroke-width="1.6"/><rect x="692.6" y="386.5" width="85.6" height="12.6" fill="#fff" stroke="#3a2ab0" stroke-width="1.6"/><path d="M692.6,389.5H778.2" stroke="#e0204a" stroke-width="1.6"/><path d="M735.4,537.6V543.8M735.4,554.6V556.2" stroke="#222" stroke-width="1.4"/><path d="M714.0,537.6H756.8M714.0,556.2H756.8" stroke="#222" stroke-width="1.6"/><rect x="692.6" y="543.8" width="85.6" height="10.8" fill="#fff" stroke="#3a2ab0" stroke-width="1.6"/><path d="M692.6,544.6H778.2" stroke="#e0204a" stroke-width="1.6"/><path d="M921.0,247.2V248.3M921.0,254.5V255.4" stroke="#222" stroke-width="1.4"/><path d="M899.4,247.2H942.7M899.4,255.4H942.7" stroke="#222" stroke-width="1.6"/><rect x="877.7" y="248.3" width="86.7" height="6.2" fill="#8a40c0" stroke="#6a2aa0" stroke-width="1.6"/><path d="M877.7,251.4H964.4" stroke="#e0204a" stroke-width="1.6"/><path d="M921.0,348.3V351.8M921.0,359.3V363.0" stroke="#222" stroke-width="1.4"/><path d="M899.4,348.3H942.7M899.4,363.0H942.7" stroke="#222" stroke-width="1.6"/><rect x="877.7" y="351.8" width="86.7" height="7.5" fill="#c8b8ff" stroke="#3a2ab0" stroke-width="1.6"/><path d="M877.7,355.4H964.4" stroke="#e0204a" stroke-width="1.6"/><path d="M921.0,458.0V458.5M921.0,468.2V472.3" stroke="#222" stroke-width="1.4"/><path d="M899.4,458.0H942.7M899.4,472.3H942.7" stroke="#222" stroke-width="1.6"/><rect x="877.7" y="458.5" width="86.7" height="9.7" fill="#c8b8ff" stroke="#3a2ab0" stroke-width="1.6"/><path d="M877.7,462.8H964.4" stroke="#e0204a" stroke-width="1.6"/><path d="M921.0,611.0V612.6M921.0,618.0V619.6" stroke="#222" stroke-width="1.4"/><path d="M899.4,611.0H942.7M899.4,619.6H942.7" stroke="#222" stroke-width="1.6"/><rect x="877.7" y="612.6" width="86.7" height="5.4" fill="#c040c0" stroke="#3030c0" stroke-width="1.6"/><path d="M877.7,615.0H964.4" stroke="#e0204a" stroke-width="1.6"/><path d="M1313.8,291.0V291.5M1313.8,300.0V300.5" stroke="#222" stroke-width="1.4"/><path d="M1292.1,291.0H1335.4M1292.1,300.5H1335.4" stroke="#222" stroke-width="1.6"/><rect x="1270.5" y="291.5" width="86.5" height="8.5" fill="#6a4ccc" stroke="#3a1a90" stroke-width="1.6"/><path d="M1270.5,299.0H1357.0" stroke="#4a1a80" stroke-width="1.6"/><path d="M1313.8,421.0V421.2M1313.8,427.0V427.5" stroke="#222" stroke-width="1.4"/><path d="M1292.1,421.0H1335.4M1292.1,427.5H1335.4" stroke="#222" stroke-width="1.6"/><rect x="1270.5" y="421.2" width="86.5" height="5.8" fill="#5a34b0" stroke="#301888" stroke-width="1.6"/><path d="M1270.5,426.0H1357.0" stroke="#502070" stroke-width="1.6"/><rect x="1270.5" y="532.6" width="59.5" height="3.8" fill="#b02838" stroke="none"/><path d="M1302.8,537.4H1324.8M1313.8,526.4V548.4" stroke="#e8203a" stroke-width="1.6"/><rect x="1270.5" y="671.4" width="59.5" height="3.8" fill="#2a2080" stroke="none"/>
</g>
<path d="M290.8,1021.2v-12M290.8,106.7v12M439.0,1021.2v-12M439.0,106.7v12M587.2,1021.2v-12M587.2,106.7v12M735.5,1021.2v-12M735.5,106.7v12M883.7,1021.2v-12M883.7,106.7v12M1031.9,1021.2v-12M1031.9,106.7v12M1180.1,1021.2v-12M1180.1,106.7v12M142.6,890.6h12M1328.3,890.6h-12M142.6,759.9h12M1328.3,759.9h-12M142.6,629.3h12M1328.3,629.3h-12M142.6,498.6h12M1328.3,498.6h-12M142.6,368.0h12M1328.3,368.0h-12M142.6,237.3h12M1328.3,237.3h-12" stroke="#666" stroke-width="1.9" fill="none"/>
<rect x="142.6" y="106.7" width="1185.7" height="914.5" fill="none" stroke="#6a6a6a" stroke-width="2.1"/>
<text x="142.6" y="1076.5" text-anchor="middle" font-size="40" fill="#2a2a2a">5</text>
<text x="290.8" y="1076.5" text-anchor="middle" font-size="40" fill="#2a2a2a">10</text>
<text x="439.0" y="1076.5" text-anchor="middle" font-size="40" fill="#2a2a2a">15</text>
<text x="587.2" y="1076.5" text-anchor="middle" font-size="40" fill="#2a2a2a">20</text>
<text x="735.5" y="1076.5" text-anchor="middle" font-size="40" fill="#2a2a2a">25</text>
<text x="883.7" y="1076.5" text-anchor="middle" font-size="40" fill="#2a2a2a">30</text>
<text x="1031.9" y="1076.5" text-anchor="middle" font-size="40" fill="#2a2a2a">35</text>
<text x="1180.1" y="1076.5" text-anchor="middle" font-size="40" fill="#2a2a2a">40</text>
<text x="1328.3" y="1076.5" text-anchor="middle" font-size="40" fill="#2a2a2a">45</text>
<text x="127" y="1036.7" text-anchor="end" font-size="40" fill="#2a2a2a">0</text>
<text x="127" y="906.1" text-anchor="end" font-size="40" fill="#2a2a2a">0.1</text>
<text x="127" y="775.4" text-anchor="end" font-size="40" fill="#2a2a2a">0.2</text>
<text x="127" y="644.8" text-anchor="end" font-size="40" fill="#2a2a2a">0.3</text>
<text x="127" y="514.1" text-anchor="end" font-size="40" fill="#2a2a2a">0.4</text>
<text x="127" y="383.5" text-anchor="end" font-size="40" fill="#2a2a2a">0.5</text>
<text x="127" y="252.8" text-anchor="end" font-size="40" fill="#2a2a2a">0.6</text>
<text x="127" y="122.2" text-anchor="end" font-size="40" fill="#2a2a2a">0.7</text>
<text x="734.6" y="1129.7" text-anchor="middle" font-size="40" fill="#262626">speed [m/s]</text>
<text transform="translate(50.8,812.9) rotate(-90)" font-size="40.15" fill="#262626">Energy recovery efficiency</text>
<text transform="translate(50.8,331.6) rotate(-90) scale(1.13,1)" font-size="32" fill="#262626">&#x3F5;</text>
<text x="734.7" y="46.5" text-anchor="middle" font-size="40.1" font-weight="bold" fill="#000">Energy recovery efficiency for various top speed and power</text>
<text x="736" y="96.5" text-anchor="middle" font-size="40" font-weight="bold" fill="#000">Gradient: 1%</text>
<rect x="151.0" y="722.6" width="399.6" height="283.8" fill="#fff" stroke="#5e5e5e" stroke-width="2"/>
<path d="M160.6,761.9H270.7" stroke="#98b6d0" stroke-width="2.8"/>
<text x="279" y="767.6" font-size="40" fill="#000">P</text>
<text x="305.5" y="788.2" font-size="31.5" fill="#000">FESS</text>
<text x="400.3" y="767.6" font-size="40" fill="#000">1 MW</text>
<path d="M160.6,830.7H270.7" stroke="#d49c84" stroke-width="2.8"/>
<text x="279" y="836.4" font-size="40" fill="#000">P</text>
<text x="305.5" y="857.0" font-size="31.5" fill="#000">FESS</text>
<text x="400.3" y="836.4" font-size="40" fill="#000">1.5 MW</text>
<path d="M160.6,899.5H270.7" stroke="#dcd28a" stroke-width="2.8"/>
<text x="279" y="905.2" font-size="40" fill="#000">P</text>
<text x="305.5" y="925.8" font-size="31.5" fill="#000">FESS</text>
<text x="400.3" y="905.2" font-size="40" fill="#000">2 MW</text>
<path d="M160.6,968.3H270.7" stroke="#ae96bc" stroke-width="2.8"/>
<text x="279" y="974.0" font-size="40" fill="#000">P</text>
<text x="305.5" y="994.6" font-size="31.5" fill="#000">FESS</text>
<text x="400.3" y="974.0" font-size="40" fill="#000">2.8 MW</text>
</svg></body></html>
